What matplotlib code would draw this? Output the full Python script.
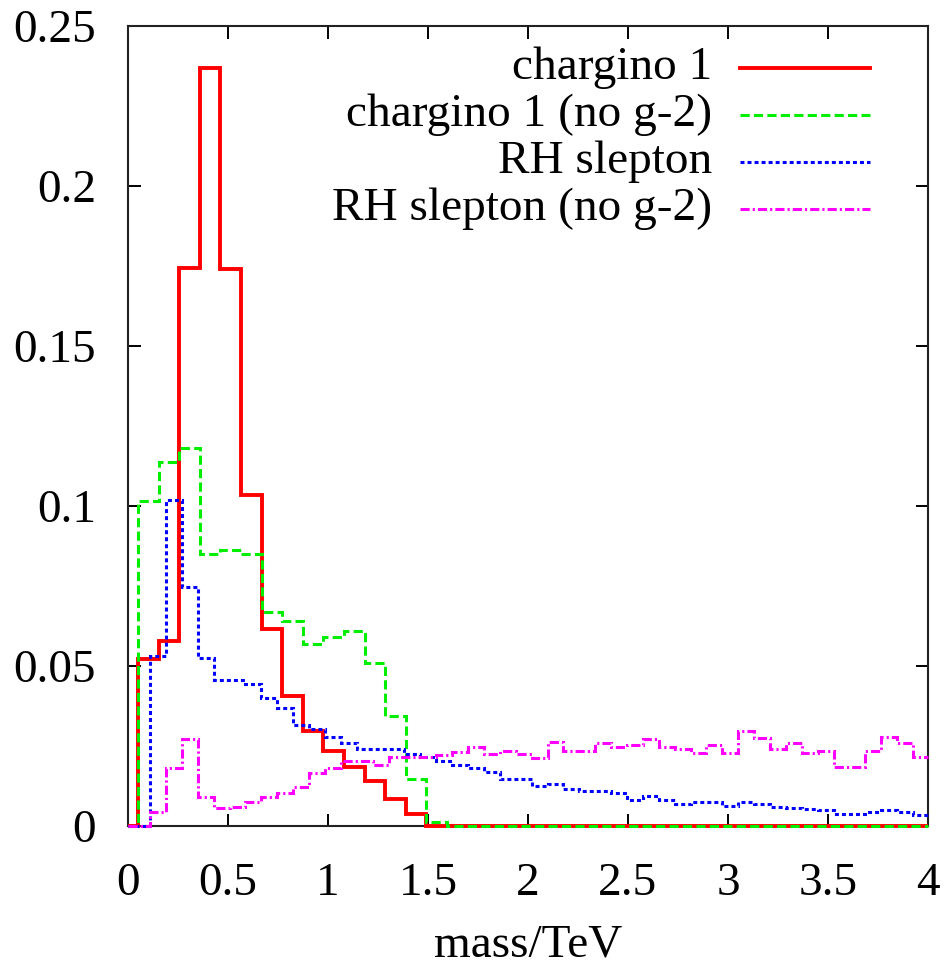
import numpy as np
import matplotlib
matplotlib.use("Agg")
import matplotlib.pyplot as plt

# ---------------- data ----------------
# chargino histograms (bin width ~0.103 TeV starting at 0.05 TeV)
chargino_start = 0.05
chargino_width = 0.103
chargino1 = [0.0521, 0.0578, 0.1745, 0.237, 0.174, 0.1034, 0.0617, 0.0407,
             0.0298, 0.0235, 0.0183, 0.0141, 0.0084, 0.0036, 0.0]
chargino1_nog2 = [0.1016, 0.1136, 0.118, 0.085, 0.0862, 0.085, 0.0668, 0.064,
                  0.057, 0.059, 0.061, 0.0508, 0.0344, 0.0146, 0.0013]

# RH slepton histograms (49 bins from 0.11 TeV, width ~0.0795 TeV)
slepton_start = 0.11
slepton_width = 0.0795
rh_slepton = [0.053, 0.102, 0.0748, 0.0525, 0.0456, 0.0456, 0.0444, 0.040,
              0.0368, 0.0316, 0.0302, 0.0277, 0.0258, 0.024, 0.024, 0.024,
              0.0225, 0.0215, 0.0203, 0.019, 0.0182, 0.017, 0.0146, 0.0146,
              0.0125, 0.0131, 0.0115, 0.0109, 0.0109, 0.0102, 0.0081, 0.0094,
              0.0081, 0.0069, 0.0074, 0.0074, 0.0063, 0.0076, 0.0069, 0.0058,
              0.0057, 0.0054, 0.005, 0.0036, 0.0036, 0.0044, 0.005, 0.0044,
              0.0034]
rh_slepton_nog2 = [0.0045, 0.018, 0.0271, 0.009, 0.0055, 0.0058, 0.0075, 0.0092,
                   0.0102, 0.0123, 0.0167, 0.018, 0.0204, 0.0204, 0.019, 0.0215,
                   0.0215, 0.0216, 0.0223, 0.0232, 0.0246, 0.0225, 0.0235, 0.0225,
                   0.0214, 0.0264, 0.0234, 0.0234, 0.026, 0.0248, 0.0253, 0.0271,
                   0.0248, 0.024, 0.0227, 0.0253, 0.0229, 0.0298, 0.0274, 0.024,
                   0.026, 0.0229, 0.0235, 0.0183, 0.0183, 0.0233, 0.0277, 0.026,
                   0.0215]

labels = ["chargino 1", "chargino 1 (no g-2)", "RH slepton", "RH slepton (no g-2)"]
xticks = [0, 0.5, 1, 1.5, 2, 2.5, 3, 3.5, 4]
yticks = [0, 0.05, 0.1, 0.15, 0.2, 0.25]
xlabel = "mass/TeV"
xmin, xmax = 0.0, 4.0

# ---------------- style ----------------
plt.rcParams['font.family'] = ['Liberation Serif', 'DejaVu Serif']
FS = 34

def full_hist(vals, start, width):
    vals = list(vals)
    edges = start + width * np.arange(len(vals) + 1)
    edges = np.clip(edges, xmin, xmax)
    e = np.concatenate([[xmin], edges, [xmax]])
    v = np.concatenate([[0.0], vals, [0.0]])
    keep = np.diff(e) > 1e-9
    newe = [e[0]]
    newv = []
    for i, k in enumerate(keep):
        if k:
            newv.append(v[i])
            newe.append(e[i + 1])
    return np.array(newv), np.array(newe)

styles = [
    dict(color='#ff0000', linestyle='-', lw=2.8),
    dict(color='#00ee00', linestyle=(0, (3.0, 1.4)), lw=2.2),
    dict(color='#0000ff', linestyle=(0, (1.3, 1.0)), lw=2.2),
    dict(color='#ff00ff', linestyle=(0, (3.0, 1.0, 0.7, 1.0)), lw=2.2),
]

fig = plt.figure(figsize=(9.51, 9.73), dpi=100)
ax = fig.add_axes([128 / 951, 1 - 826 / 973, 800 / 951, 800 / 973])

series = [
    (chargino1, chargino_start, chargino_width),
    (chargino1_nog2, chargino_start, chargino_width),
    (rh_slepton, slepton_start, slepton_width),
    (rh_slepton_nog2, slepton_start, slepton_width),
]

for i, ((vals, s, w), st) in enumerate(zip(series, styles)):
    v, e = full_hist(vals, s, w)
    ax.stairs(v, e, baseline=None, color=st['color'], linestyle=st['linestyle'],
              linewidth=st['lw'], clip_on=False, zorder=3 + i * 0.1)

ax.set_xlim(xmin, xmax)
ax.set_ylim(0, 0.25)
ax.set_xticks(xticks)
ax.set_xticklabels([f"{t:g}" for t in xticks])
ax.set_yticks(yticks)
ax.set_yticklabels([f"{t:g}" for t in yticks])
ax.tick_params(direction='in', length=9, width=1.4, labelsize=FS,
               top=True, right=True)
ax.tick_params(axis='x', pad=26)
ax.tick_params(axis='y', pad=23)
for sp in ax.spines.values():
    sp.set_linewidth(1.5)
    sp.set_color('#222222')
ax.set_xlabel(xlabel, fontsize=FS, labelpad=14)

# manual legend (gnuplot style)
row_y = [0.9475, 0.889, 0.83, 0.771]
for lab, st, yy in zip(labels, styles, row_y):
    ax.text(0.73, yy, lab, transform=ax.transAxes, ha='right', va='center',
            fontsize=FS)
    ax.plot([0.765, 0.9275], [yy, yy], transform=ax.transAxes,
            color=st['color'], linestyle=st['linestyle'], lw=st['lw'])

fig.savefig("out.png", dpi=100)
